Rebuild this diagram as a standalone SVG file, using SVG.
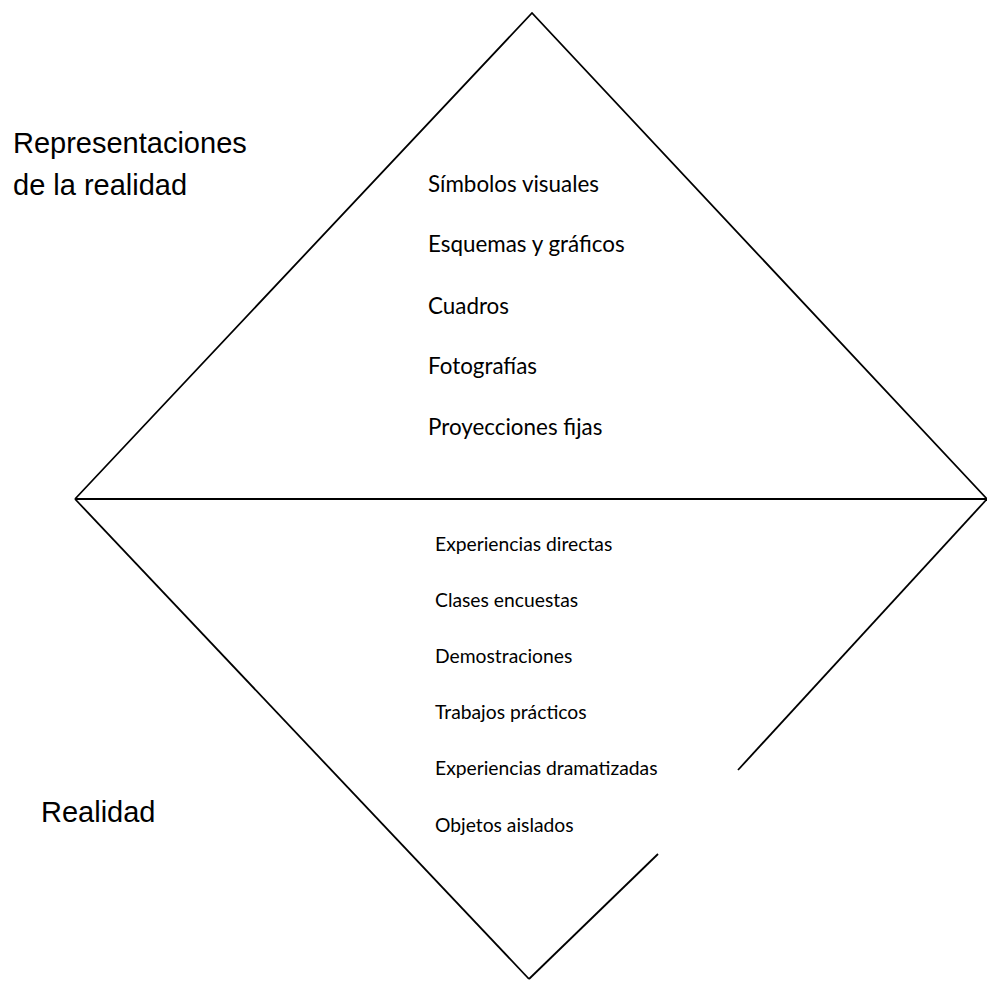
<svg xmlns="http://www.w3.org/2000/svg" width="987" height="981" viewBox="0 0 987 981">
<style>
.ln{stroke:#000;stroke-width:1.8;fill:none;stroke-linecap:butt}
.big{font-family:"Liberation Sans",Arial,sans-serif;font-size:29px;fill:#000}
.up{font-family:Lato,"Open Sans",sans-serif;font-size:22.4px;fill:#000}
.lo{font-family:Lato,"Open Sans",sans-serif;font-size:19.3px;fill:#000}
</style>
<rect width="987" height="981" fill="#fff"/>
<g id="connectors">
<polyline class="ln" points="75,499 532,13 987,499"/>
<line class="ln" x1="75" y1="499" x2="987" y2="499"/>
<line class="ln" x1="75" y1="499" x2="529" y2="979"/>
<line class="ln" x1="987" y1="499" x2="738" y2="770"/>
<line class="ln" x1="658" y1="854" x2="529" y2="979"/>
</g>
<g id="label-representaciones">
<text class="big" x="13" y="153">Representaciones</text>
<text class="big" x="13" y="195">de la realidad</text>
</g>
<g id="label-realidad">
<text class="big" x="41" y="822">Realidad</text>
</g>
<g id="upper-list">
<text class="up" x="428" y="192">Símbolos visuales</text>
<text class="up" x="428" y="252">Esquemas y gráficos</text>
<text class="up" x="428" y="314">Cuadros</text>
<text class="up" x="428" y="374">Fotografías</text>
<text class="up" x="428" y="435">Proyecciones fijas</text>
</g>
<g id="lower-list">
<text class="lo" x="435" y="551">Experiencias directas</text>
<text class="lo" x="435" y="607">Clases encuestas</text>
<text class="lo" x="435" y="663">Demostraciones</text>
<text class="lo" x="435" y="719">Trabajos prácticos</text>
<text class="lo" x="435" y="775">Experiencias dramatizadas</text>
<text class="lo" x="435" y="832">Objetos aislados</text>
</g>
</svg>
